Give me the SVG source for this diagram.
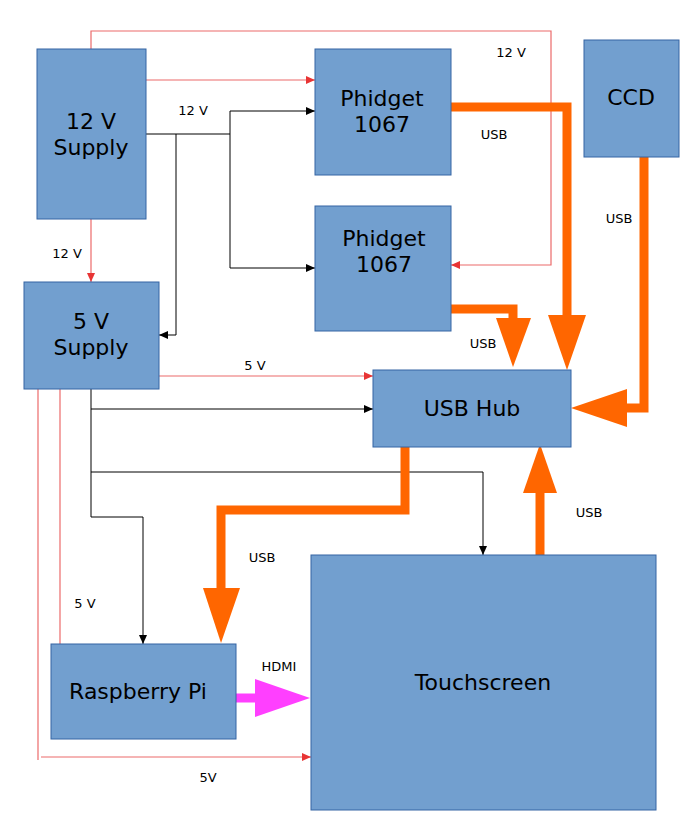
<svg xmlns="http://www.w3.org/2000/svg" width="700" height="838" viewBox="0 0 700 838">
<style>
.box{fill:#729fcf;stroke:#3465a4;stroke-width:1}
.big{font-family:"DejaVu Sans",sans-serif;font-size:22px;fill:#000;text-anchor:middle}
.lbl{font-family:"DejaVu Sans",sans-serif;font-size:13px;fill:#000;text-anchor:middle}
.red{fill:none;stroke:#ec6a6a;stroke-width:1.2}
.blk{fill:none;stroke:#000;stroke-width:1}
.org{fill:none;stroke:#ff6600;stroke-width:9;stroke-linejoin:miter}
.orgh{fill:#ff6600}
.mag{fill:none;stroke:#ff3fff;stroke-width:9}
.magh{fill:#ff3fff}
</style>
<defs>
<marker id="ar" markerUnits="userSpaceOnUse" markerWidth="10" markerHeight="10" refX="9" refY="4" orient="auto">
<path d="M0,0 L9,4 L0,8 Z" fill="#e83434"/>
</marker>
<marker id="ab" markerUnits="userSpaceOnUse" markerWidth="10" markerHeight="10" refX="9" refY="4" orient="auto">
<path d="M0,0 L9,4 L0,8 Z" fill="#000"/>
</marker>
</defs>
<rect width="700" height="838" fill="#fff"/>
<g id="connectors">
<path class="red" d="M91,49 V31 H551 V265 H451" marker-end="url(#ar)"/>
<path class="red" d="M146,80 H315" marker-end="url(#ar)"/>
<path class="red" d="M91,219 V282" marker-end="url(#ar)"/>
<path class="red" d="M159,376 H373" marker-end="url(#ar)"/>
<path class="red" d="M38,389 V760"/>
<path class="red" d="M60,389 V644"/>
<path class="red" d="M41,757 H311" marker-end="url(#ar)"/>
<path class="blk" d="M146,134 H230"/>
<path class="blk" d="M176,134 V335 H159" marker-end="url(#ab)"/>
<path class="blk" d="M230,111 V268"/>
<path class="blk" d="M230,111 H315" marker-end="url(#ab)"/>
<path class="blk" d="M230,268 H315" marker-end="url(#ab)"/>
<path class="blk" d="M91,389 V517 H143 V644" marker-end="url(#ab)"/>
<path class="blk" d="M91,409 H373" marker-end="url(#ab)"/>
<path class="blk" d="M91,472 H483 V555" marker-end="url(#ab)"/>
<polyline class="org" points="451,107 567,107 567,316"/>
<polygon class="orgh" points="548,315 586,315 567,370"/>
<polyline class="org" points="447,309 513,309 513,319"/>
<polygon class="orgh" points="496,318 531,318 513,367"/>
<polyline class="org" points="644,157 644,408 626,408"/>
<polygon class="orgh" points="627,389 627,427 571,408"/>
<polyline class="org" points="405,447 405,510 221,510 221,589"/>
<polygon class="orgh" points="203,588 240,588 221,643"/>
<polyline class="org" points="540,555 540,492"/>
<polygon class="orgh" points="523,493 557,493 540,444"/>
<polyline class="mag" points="236,698 256,698"/>
<polygon class="magh" points="255,679 255,717 310,698"/>
<text class="lbl" x="193" y="115">12 V</text>
<text class="lbl" x="511" y="57">12 V</text>
<text class="lbl" x="67" y="258">12 V</text>
<text class="lbl" x="255" y="370">5 V</text>
<text class="lbl" x="85" y="608">5 V</text>
<text class="lbl" x="208" y="782">5V</text>
<text class="lbl" x="494" y="139">USB</text>
<text class="lbl" x="619" y="223">USB</text>
<text class="lbl" x="483" y="348">USB</text>
<text class="lbl" x="262" y="562">USB</text>
<text class="lbl" x="589" y="517">USB</text>
<text class="lbl" x="279" y="671">HDMI</text>
</g>
<g id="supply12">
<rect class="box" x="37" y="49" width="109" height="170"/>
<text class="big" x="91" y="129">12 V</text>
<text class="big" x="91" y="155">Supply</text>
</g>
<g id="supply5">
<rect class="box" x="24" y="282" width="135" height="107"/>
<text class="big" x="91" y="329">5 V</text>
<text class="big" x="91" y="355">Supply</text>
</g>
<g id="phidget1">
<rect class="box" x="315" y="49" width="136" height="126"/>
<text class="big" x="382" y="106">Phidget</text>
<text class="big" x="382" y="132">1067</text>
</g>
<g id="phidget2">
<rect class="box" x="315" y="206" width="136" height="125"/>
<text class="big" x="384" y="246">Phidget</text>
<text class="big" x="384" y="272">1067</text>
</g>
<g id="ccd">
<rect class="box" x="584" y="40" width="95" height="117"/>
<text class="big" x="631" y="105">CCD</text>
</g>
<g id="usbhub">
<rect class="box" x="373" y="370" width="198" height="77"/>
<text class="big" x="472" y="416">USB Hub</text>
</g>
<g id="touchscreen">
<rect class="box" x="311" y="555" width="345" height="255"/>
<text class="big" x="483" y="690">Touchscreen</text>
</g>
<g id="raspberrypi">
<rect class="box" x="51" y="644" width="185" height="95"/>
<text class="big" x="138" y="699">Raspberry Pi</text>
</g>
</svg>
